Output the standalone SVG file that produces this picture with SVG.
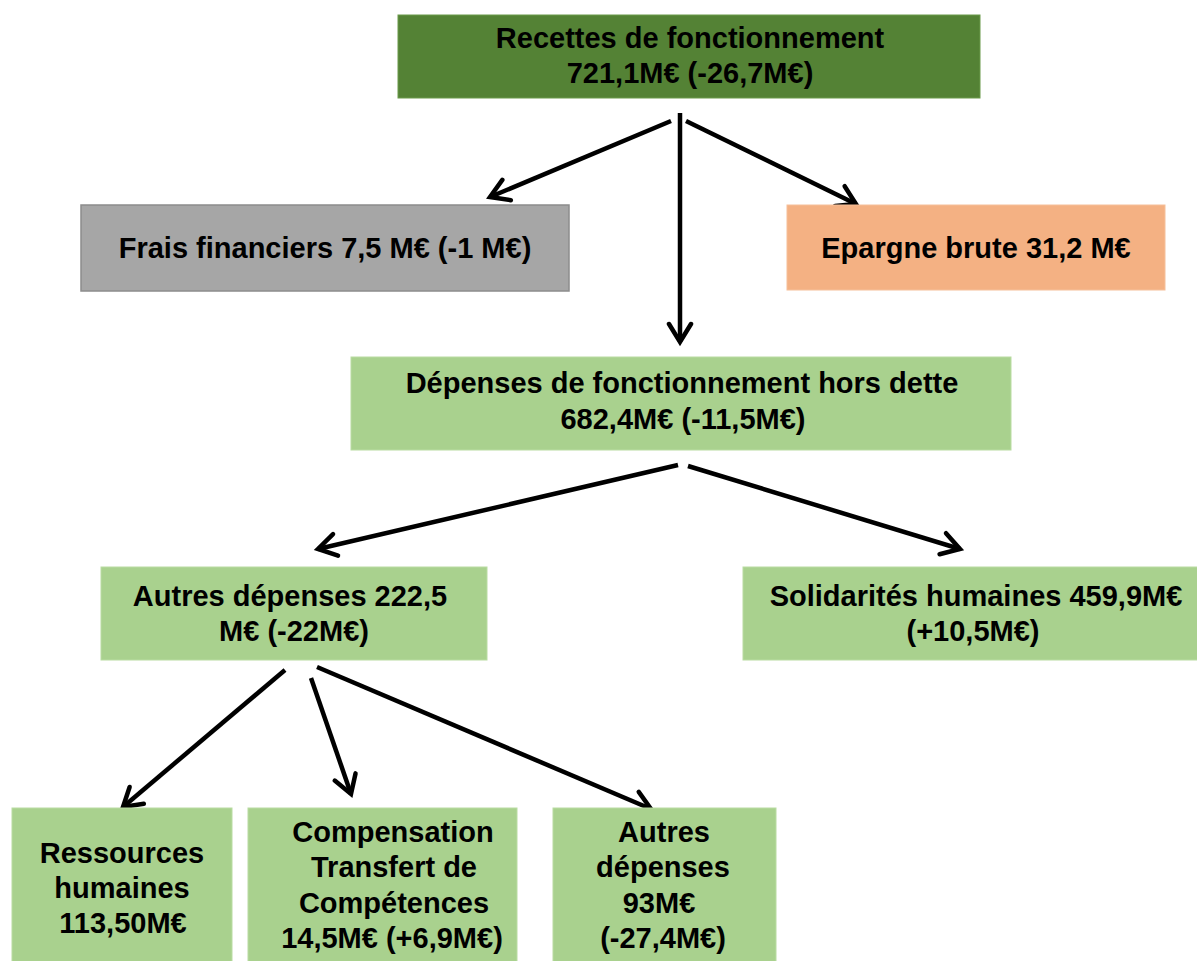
<svg xmlns="http://www.w3.org/2000/svg" width="1197" height="961" viewBox="0 0 1197 961">
<style>
text{font-family:"Liberation Sans",Arial,sans-serif;font-weight:bold;font-size:29px;fill:#000;text-anchor:middle}
.dk{fill:#548235;stroke:#6a9a4a;stroke-width:1}
.gr{fill:#a9d18e;stroke:#b9dca2;stroke-width:1}
.gy{fill:#a6a6a6;stroke:#8c8c8c;stroke-width:1.5}
.or{fill:#f4b183;stroke:#f6c09a;stroke-width:1}
.c{stroke:#000;stroke-width:4.5;fill:none;marker-end:url(#ah)}
</style>
<defs>
<marker id="ah" markerUnits="userSpaceOnUse" markerWidth="30" markerHeight="30" refX="22" refY="14" orient="auto">
<path d="M4,3 L22,14 L4,25" fill="none" stroke="#000" stroke-width="4.5" stroke-linecap="round" stroke-linejoin="miter"/>
</marker>
</defs>
<rect width="1197" height="961" fill="#fff"/>
<g id="connectors">
<line class="c" x1="680" y1="113" x2="680" y2="342"/>
<line class="c" x1="671" y1="121" x2="490" y2="197"/>
<line class="c" x1="686" y1="121" x2="856" y2="204"/>
<line class="c" x1="678" y1="465" x2="318" y2="549"/>
<line class="c" x1="688" y1="466" x2="960" y2="549"/>
<line class="c" x1="285" y1="670" x2="123" y2="807"/>
<line class="c" x1="311" y1="678" x2="351" y2="794"/>
<line class="c" x1="317" y1="667" x2="651" y2="809"/>
</g>
<g id="recettes">
<rect class="dk" x="398" y="15" width="582" height="83"/>
<text x="690" y="48">Recettes de fonctionnement</text>
<text x="690" y="83">721,1M€ (-26,7M€)</text>
</g>
<g id="frais">
<rect class="gy" x="81" y="205" width="488" height="86"/>
<text x="325" y="258">Frais financiers 7,5 M€ (-1 M€)</text>
</g>
<g id="epargne">
<rect class="or" x="787" y="205" width="378" height="85"/>
<text x="976" y="258">Epargne brute 31,2 M€</text>
</g>
<g id="depenses">
<rect class="gr" x="351" y="357" width="660" height="93"/>
<text x="682" y="393">Dépenses de fonctionnement hors dette</text>
<text x="683" y="429">682,4M€ (-11,5M€)</text>
</g>
<g id="autres-depenses">
<rect class="gr" x="101" y="567" width="386" height="93"/>
<text x="290" y="606">Autres dépenses 222,5</text>
<text x="294" y="641">M€ (-22M€)</text>
</g>
<g id="solidarites">
<rect class="gr" x="743" y="567" width="460" height="93"/>
<text x="976" y="606">Solidarités humaines 459,9M€</text>
<text x="973" y="641">(+10,5M€)</text>
</g>
<g id="ressources">
<rect class="gr" x="12" y="808" width="220" height="160"/>
<text x="122" y="863">Ressources</text>
<text x="122" y="898">humaines</text>
<text x="123" y="933">113,50M€</text>
</g>
<g id="compensation">
<rect class="gr" x="248" y="808" width="269" height="160"/>
<text x="393" y="842">Compensation</text>
<text x="394" y="877">Transfert de</text>
<text x="394" y="913">Compétences</text>
<text x="392" y="948">14,5M€ (+6,9M€)</text>
</g>
<g id="autres-93">
<rect class="gr" x="553" y="808" width="223" height="160"/>
<text x="664" y="842">Autres</text>
<text x="663" y="877">dépenses</text>
<text x="659" y="913">93M€</text>
<text x="663" y="948">(-27,4M€)</text>
</g>
</svg>
